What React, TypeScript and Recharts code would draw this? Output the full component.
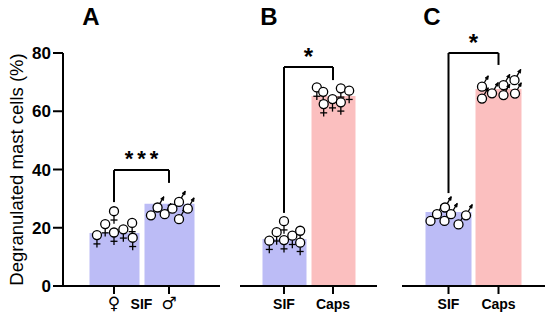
import { Bar, Cell, ComposedChart, ReferenceLine, Scatter, XAxis, YAxis } from "recharts";

const FONT = "'Liberation Sans', Arial, Helvetica, sans-serif";
const BLUE = "#bcbcf6";
const PINK = "#fbbfbf";
const H = 322;

// group positions on the numeric x axis: 1 = left bar, 2 = right bar
const GROUP_X = [1, 2];

// A: SIF, female vs male
const A_GROUPS = ["female", "male"];
const A_MEANS = [18.2, 28.2];
const A_TICKS = [1, 1.5, 2];
const A_LABELS = ["\u2640\uFE0E", "SIF", "\u2642\uFE0E"];
const A_FEMALE: [number, number][] = [
  [0.69, 16.1], [0.84, 19.9], [1.0, 24.3], [1.0, 17.0], [1.17, 18.1], [1.33, 20.3], [1.34, 15.2],
];
const A_MALE: [number, number][] = [
  [1.69, 25.8], [1.81, 28.5], [1.94, 26.2], [2.08, 28.1], [2.2, 30.4], [2.2, 24.5], [2.36, 28.1],
];
const A_BRACKET = [28.8, 39.8, 35.4]; // left foot, top, right foot

// B: females, SIF vs Caps
const B_GROUPS = ["SIF", "Caps"];
const B_MEANS = [16.1, 65.2];
const B_SIF: [number, number][] = [
  [0.7, 14.2], [0.85, 17.1], [1.0, 20.9], [1.0, 14.4], [1.17, 15.9], [1.33, 17.6], [1.33, 13.5],
];
const B_CAPS: [number, number][] = [
  [1.67, 66.8], [1.8, 65.3], [1.99, 62.8], [2.16, 66.5], [2.33, 65.7], [1.81, 61.1], [2.16, 61.7],
];
const B_BRACKET = [25.1, 75.2, 70.7];

// C: males, SIF vs Caps
const C_GROUPS = ["SIF", "Caps"];
const C_MEANS = [25.4, 67.6];
const C_SIF: [number, number][] = [
  [0.66, 23.9], [0.79, 26.2], [0.94, 23.9], [0.95, 28.5], [1.07, 26.2], [1.22, 22.7], [1.37, 25.8],
];
const C_CAPS: [number, number][] = [
  [1.69, 70.0], [1.69, 65.9], [1.89, 67.7], [2.12, 70.5], [2.12, 67.1], [2.34, 72.2], [2.35, 67.6],
];
const C_BRACKET = [31.9, 80.0, 75.9];

const Y_TICKS = [0, 20, 40, 60, 80];

const toPoints = (pts: [number, number][]) => pts.map(([x, y]) => ({ x, y }));

function Female(props: any) {
  const { cx, cy } = props;
  if (cx == null || cy == null) return null;
  return (
    <g stroke="#000" strokeWidth={1.3} fill="#fff">
      <circle cx={cx} cy={cy - 4} r={4.5} />
      <line x1={cx} y1={cy + 0.5} x2={cx} y2={cy + 8.5} />
      <line x1={cx - 3.5} y1={cy + 4.8} x2={cx + 3.5} y2={cy + 4.8} />
    </g>
  );
}

function Male(props: any) {
  const { cx, cy } = props;
  if (cx == null || cy == null) return null;
  const ox = cx - 1;
  const oy = cy + 4.5;
  const dx = 0.5;
  const dy = -0.866;
  const sx = ox + 4.5 * dx;
  const sy = oy + 4.5 * dy;
  const ex = sx + 8 * dx;
  const ey = sy + 8 * dy;
  const head = (a: number) => {
    const c = Math.cos(a);
    const s = Math.sin(a);
    const bx = -dx * c + dy * s;
    const by = -dx * s - dy * c;
    return `${ex + 3.8 * bx},${ey + 3.8 * by}`;
  };
  return (
    <g stroke="#000" strokeWidth={1.3} fill="#fff">
      <circle cx={ox} cy={oy} r={4.5} />
      <line x1={sx} y1={sy} x2={ex} y2={ey} />
      <polygon points={`${head(0.45)} ${ex},${ey} ${head(-0.45)}`} fill="#000" strokeWidth={0.8} />
    </g>
  );
}

function AxisTick(props: any) {
  const { x, y, index, labels, noLine } = props;
  const label = labels[index];
  const symbol = label.length <= 2;
  return (
    <g>
      {index !== noLine && <line x1={x} x2={x} y1={y - 8} y2={y} stroke="#000" strokeWidth={2} />}
      <text
        x={x}
        y={y + 15}
        textAnchor="middle"
        fill="#000"
        fontFamily={symbol ? "'DejaVu Sans', sans-serif" : FONT}
        fontWeight="bold"
        fontSize={symbol ? 17 : 14}
      >
        {label}
      </text>
    </g>
  );
}

type PanelProps = {
  left: number;
  width: number;
  yAxis?: boolean;
  pad: number;
  padPx: number;
  ticks: number[];
  labels: string[];
  noLine?: number;
  groups: string[];
  means: number[];
  colors: string[];
  barSize: number;
  series: { pts: [number, number][]; shape: any }[];
  bracket: number[];
  sig: string;
  sigSize: number;
  sigOffset: number;
};

function Panel(p: PanelProps) {
  const data = p.groups.map((g, i) => ({ g, mean: p.means[i] }));
  const [yl, yt, yr] = p.bracket;
  const line = { stroke: "#000", strokeWidth: 2, ifOverflow: "visible" as const };
  const spaced = p.sig.length > 1;
  return (
    <div style={{ position: "absolute", left: p.left, top: 0 }}>
      <ComposedChart
        width={p.width}
        height={H}
        data={data}
        margin={{ top: 53, right: 0, bottom: 0, left: 0 }}
        style={{ overflow: "visible" }}
      >
        <XAxis
          xAxisId="num"
          dataKey="x"
          type="number"
          domain={[1.5 - p.pad, 1.5 + p.pad]}
          allowDataOverflow
          ticks={p.ticks}
          interval={0}
          height={36}
          tickSize={8}
          tickMargin={0}
          tickLine={false}
          axisLine={{ stroke: "#000", strokeWidth: 2 }}
          tick={<AxisTick labels={p.labels} noLine={p.noLine} />}
        />
        <XAxis
          xAxisId="bars"
          dataKey="g"
          type="category"
          hide
          height={0}
          padding={{ left: p.padPx, right: p.padPx }}
        />
        {p.yAxis ? (
          <YAxis
            type="number"
            domain={[0, 80]}
            ticks={Y_TICKS}
            interval={0}
            width={63}
            tickSize={10}
            tickMargin={2}
            axisLine={{ stroke: "#000", strokeWidth: 2 }}
            tickLine={{ stroke: "#000", strokeWidth: 2 }}
            tick={{ fill: "#000", fontSize: 17, fontWeight: "bold", fontFamily: FONT }}
            label={{
              value: "Degranulated mast cells (%)",
              angle: -90,
              position: "insideLeft",
              offset: 16,
              style: { textAnchor: "middle", fill: "#000", fontSize: 18.5, fontFamily: FONT },
            }}
          />
        ) : (
          <YAxis type="number" domain={[0, 80]} hide />
        )}
        <Bar xAxisId="bars" dataKey="mean" barSize={p.barSize} isAnimationActive={false}>
          {data.map((d, i) => (
            <Cell key={d.g} fill={p.colors[i]} />
          ))}
        </Bar>
        <ReferenceLine xAxisId="num" segment={[{ x: 1, y: yl }, { x: 1, y: yt }]} {...line} />
        <ReferenceLine xAxisId="num" segment={[{ x: 2, y: yr }, { x: 2, y: yt }]} {...line} />
        <ReferenceLine
          xAxisId="num"
          segment={[{ x: 1, y: yt }, { x: 2, y: yt }]}
          {...line}
          label={{
            value: p.sig,
            position: "top",
            offset: p.sigOffset,
            fill: "#000",
            fontSize: p.sigSize,
            fontWeight: "bold",
            fontFamily: FONT,
            letterSpacing: spaced ? 4 : 0,
            dx: spaced ? 2 : 0,
          }}
        />
        {p.series.map((s, i) => (
          <Scatter
            key={i}
            xAxisId="num"
            data={toPoints(s.pts)}
            dataKey="y"
            shape={s.shape}
            isAnimationActive={false}
          />
        ))}
      </ComposedChart>
    </div>
  );
}

export default function App() {
  return (
    <div style={{ position: "absolute", left: 0, top: 0, width: 550, height: H, background: "#fff" }}>
      <Panel
        left={0}
        width={220}
        yAxis
        pad={1.427}
        padPx={23.5}
        ticks={A_TICKS}
        labels={A_LABELS}
        noLine={1}
        groups={A_GROUPS}
        means={A_MEANS}
        colors={[BLUE, BLUE]}
        barSize={50}
        series={[
          { pts: A_FEMALE, shape: <Female /> },
          { pts: A_MALE, shape: <Male /> },
        ]}
        bracket={A_BRACKET}
        sig="***"
        sigSize={22}
        sigOffset={4}
      />
      <Panel
        left={240}
        width={137}
        pad={1.398}
        padPx={19.5}
        ticks={GROUP_X}
        labels={B_GROUPS}
        groups={B_GROUPS}
        means={B_MEANS}
        colors={[BLUE, PINK]}
        barSize={44}
        series={[
          { pts: B_SIF, shape: <Female /> },
          { pts: B_CAPS, shape: <Female /> },
        ]}
        bracket={B_BRACKET}
        sig="*"
        sigSize={24}
        sigOffset={2}
      />
      <Panel
        left={402}
        width={143}
        pad={1.43}
        padPx={21.5}
        ticks={GROUP_X}
        labels={C_GROUPS}
        groups={C_GROUPS}
        means={C_MEANS}
        colors={[BLUE, PINK]}
        barSize={46}
        series={[
          { pts: C_SIF, shape: <Male /> },
          { pts: C_CAPS, shape: <Male /> },
        ]}
        bracket={C_BRACKET}
        sig="*"
        sigSize={24}
        sigOffset={2}
      />
      <svg
        width={550}
        height={H}
        style={{ position: "absolute", left: 0, top: 0, pointerEvents: "none" }}
        fontFamily={FONT}
        fontWeight="bold"
        fontSize={24}
      >
        <text x={91} y={25} textAnchor="middle">A</text>
        <text x={269} y={25} textAnchor="middle">B</text>
        <text x={432} y={25} textAnchor="middle">C</text>
      </svg>
    </div>
  );
}
